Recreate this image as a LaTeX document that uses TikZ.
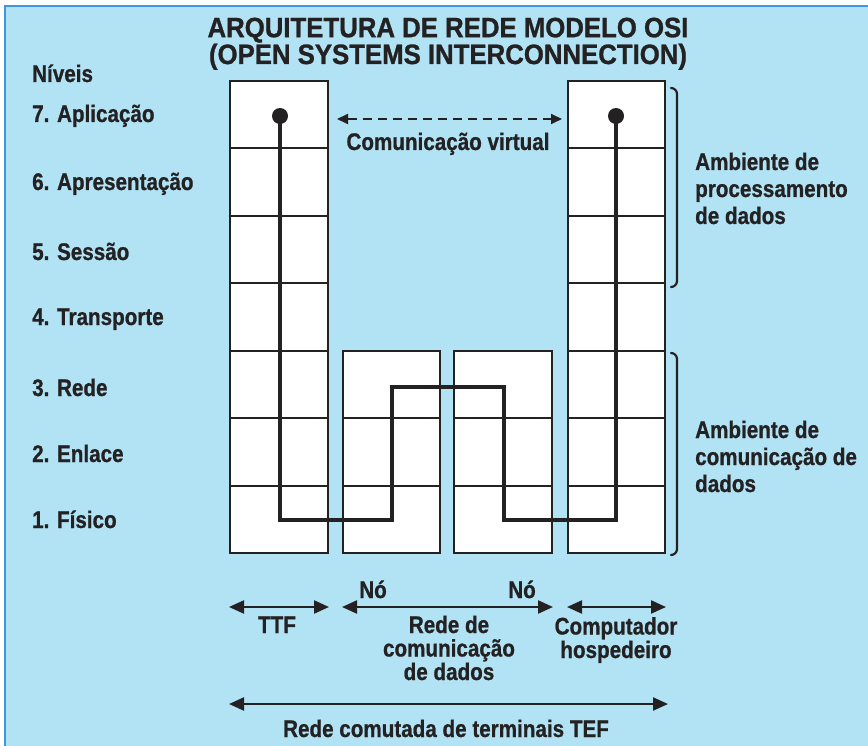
\documentclass[tikz,border=0pt]{standalone}
\usepackage{fontspec}
\setsansfont{Liberation Sans}[FakeStretch=0.86, BoldFeatures={FakeBold=0.8}]
\newfontfamily\titlefont{Liberation Sans}[FakeStretch=0.92, BoldFeatures={FakeBold=1}]
\usepackage{xcolor}
\usepackage{tikz}
\usetikzlibrary{arrows.meta,positioning}

\definecolor{bgblue}{RGB}{178,227,245}
\definecolor{edgeblue}{RGB}{60,150,225}
\definecolor{ink}{RGB}{35,33,34}

\begin{document}
\begin{tikzpicture}[x=1pt, y=-1pt,
    tower/.style={draw=ink, fill=white, line width=2pt, minimum width=97pt, inner sep=0pt},
    rowline/.style={draw=ink, line width=2pt},
    route/.style={draw=ink, line width=3.6pt, line join=miter},
    lbl/.style={font=\sffamily\bfseries\fontsize{24}{27}\selectfont, text=ink, inner sep=0pt},
    arr/.style={{Triangle[length=15pt,width=13pt]}-{Triangle[length=15pt,width=13pt]}, draw=ink, line width=2.2pt},
    varr/.style={{Triangle[length=11pt,width=10pt]}-{Triangle[length=11pt,width=10pt]}, draw=ink, line width=2pt, dash pattern=on 9pt off 6pt},
    brace/.style={draw=ink, line width=2.2pt, line cap=round},
  ]
    \useasboundingbox (0,0) rectangle (868,746);
    \fill[bgblue] (5,6) rectangle (868,746);
    \draw[edgeblue, line width=1.5pt] (5,746) -- (5,6) -- (868,6);

    % Title
    \node[lbl, font=\titlefont\bfseries\fontsize{28}{24}\selectfont, anchor=base, align=center] (title) at (448,64)
      {ARQUITETURA DE REDE MODELO OSI\\(OPEN SYSTEMS INTERCONNECTION)};

    % Layers
    \node[lbl, anchor=base west] (niveis) at (32,82) {Níveis};
    \node[lbl, anchor=base west] (l7) at (32,122) {7. Aplicação};
    \node[lbl, anchor=base west] (l6) at (32,190) {6. Apresentação};
    \node[lbl, anchor=base west] (l5) at (32,260) {5. Sessão};
    \node[lbl, anchor=base west] (l4) at (32,325) {4. Transporte};
    \node[lbl, anchor=base west] (l3) at (32,396) {3. Rede};
    \node[lbl, anchor=base west] (l2) at (32,462) {2. Enlace};
    \node[lbl, anchor=base west] (l1) at (32,528) {1. Físico};

    % Stacks
    \node[tower, minimum width=98pt, minimum height=472pt] (ttf) at (279,317) {};
    \node[tower, minimum height=202pt] (noA) at (391.5,452) {};
    \node[tower, minimum width=98pt, minimum height=202pt] (noB) at (503,452) {};
    \node[tower, minimum height=472pt] (host) at (616.5,317) {};
    \foreach \k in {1,...,6} {
      \pgfmathsetmacro\yy{round(81+67.43*\k)}
      \draw[rowline] (ttf.west |- 0,\yy) -- (ttf.east |- 0,\yy);
      \draw[rowline] (host.west |- 0,\yy) -- (host.east |- 0,\yy);
    }
    \foreach \k in {5,6} {
      \pgfmathsetmacro\yy{round(81+67.43*\k)}
      \draw[rowline] (noA.west |- 0,\yy) -- (noA.east |- 0,\yy);
      \draw[rowline] (noB.west |- 0,\yy) -- (noB.east |- 0,\yy);
    }

    % Physical route
    \coordinate (srcDot) at (280,116);
    \coordinate (dstDot) at (616,116);
    \draw[route] (srcDot) -- (280,520) -- (392,520) -- (392,387)
      -- (504,387) -- (504,520) -- (616,520) -- (dstDot);
    \fill[ink] (srcDot) circle (8);
    \fill[ink] (dstDot) circle (8);

    % Virtual link
    \coordinate (vL) at (337,119);
    \coordinate (vR) at (562,119);
    \draw[varr] (vL) -- (vR);
    \node[lbl, anchor=base] (virt) at (448,150) {Comunicação virtual};

    % Environments
    \draw[brace] (671,88) to[out=0,in=90] (677,94) -- (677,281) to[out=-90,in=0] (671,287);
    \draw[brace] (671,353) to[out=0,in=90] (677,359) -- (677,549) to[out=-90,in=0] (671,555);
    \node[lbl, anchor=base west, align=left] (envProc) at (695,224)
      {Ambiente de\\processamento\\de dados};
    \node[lbl, anchor=base west, align=left] (envCom) at (695,492)
      {Ambiente de\\comunicação de\\dados};

    % Spans below
    \coordinate (ttfL) at (ttf.west |- 0,607);
    \coordinate (ttfR) at (ttf.east |- 0,607);
    \coordinate (netL) at (noA.west |- 0,607);
    \coordinate (netR) at (noB.east |- 0,607);
    \coordinate (hostL) at (host.west |- 0,607);
    \coordinate (hostR) at (host.east |- 0,607);
    \coordinate (tefL) at (ttf.west |- 0,704);
    \coordinate (tefR) at (668,704);
    \draw[arr] (ttfL) -- (ttfR);
    \draw[arr] (netL) -- (netR);
    \draw[arr] (hostL) -- (hostR);
    \draw[arr] (tefL) -- (tefR);

    \node[lbl, anchor=base] (noLbl1) at (373,598) {Nó};
    \node[lbl, anchor=base] (noLbl2) at (522,598) {Nó};
    \node[lbl, anchor=base] (ttfLbl) at (277,633) {TTF};
    \node[lbl, font=\sffamily\bfseries\fontsize{24}{23.5}\selectfont, anchor=base, align=center] (netLbl) at (449,680)
      {Rede de\\comunicação\\de dados};
    \node[lbl, font=\sffamily\bfseries\fontsize{24}{23.5}\selectfont, anchor=base, align=center] (hostLbl) at (616,658)
      {Computador\\hospedeiro};
    \node[lbl, anchor=base] (tefLbl) at (446,737) {Rede comutada de terminais TEF};
  \end{tikzpicture}
\end{document}
